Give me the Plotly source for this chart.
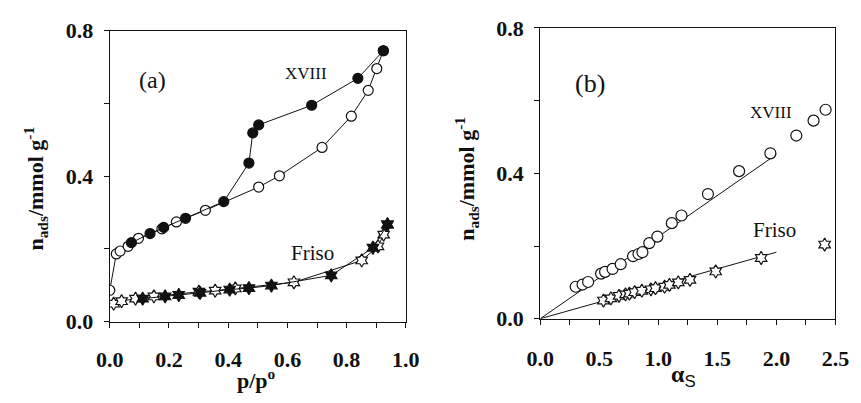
import plotly.graph_objects as go

# ---- Panel (a): isotherms, n_ads vs p/p0 ----
xviii_ads_p = [0.0, 0.022, 0.035, 0.062, 0.097, 0.176, 0.225, 0.323, 0.503, 0.573, 0.717, 0.816, 0.873, 0.902, 0.924]
xviii_ads_n = [0.086, 0.186, 0.194, 0.207, 0.229, 0.255, 0.274, 0.306, 0.370, 0.401, 0.479, 0.565, 0.636, 0.696, 0.745]
xviii_des_p = [0.924, 0.838, 0.682, 0.503, 0.483, 0.470, 0.385, 0.256, 0.182, 0.136, 0.073]
xviii_des_n = [0.745, 0.669, 0.595, 0.541, 0.519, 0.436, 0.330, 0.284, 0.259, 0.242, 0.217]

friso_ads_p = [0.013, 0.040, 0.087, 0.149, 0.301, 0.356, 0.424, 0.622, 0.851, 0.906, 0.925, 0.938]
friso_ads_n = [0.049, 0.056, 0.063, 0.069, 0.082, 0.085, 0.091, 0.108, 0.168, 0.207, 0.239, 0.267]
friso_des_p = [0.938, 0.889, 0.748, 0.546, 0.470, 0.405, 0.305, 0.233, 0.187, 0.111]
friso_des_n = [0.267, 0.203, 0.127, 0.099, 0.092, 0.088, 0.079, 0.073, 0.069, 0.063]

# ---- Panel (b): alpha-s plots ----
xviii_as = [0.30, 0.358, 0.405, 0.515, 0.549, 0.612, 0.681, 0.786, 0.832, 0.865, 0.923, 0.992,
            1.114, 1.196, 1.420, 1.684, 1.949, 2.169, 2.315, 2.417]
xviii_as_n = [0.088, 0.094, 0.101, 0.124, 0.129, 0.137, 0.150, 0.172, 0.178, 0.183, 0.208, 0.226,
              0.263, 0.284, 0.343, 0.406, 0.455, 0.504, 0.545, 0.575]
friso_as = [0.535, 0.598, 0.667, 0.722, 0.755, 0.799, 0.860, 0.937, 0.976, 1.053, 1.094, 1.169,
            1.268, 1.486, 1.871, 2.409]
friso_as_n = [0.050, 0.056, 0.063, 0.067, 0.069, 0.073, 0.077, 0.081, 0.084, 0.088, 0.093, 0.100,
              0.107, 0.130, 0.167, 0.204]
fit_x = [0.0, 2.0]
xviii_fit_n = [0.0, 0.452]
friso_fit_n = [0.0, 0.183]

W, H = 861, 403
INK = "#111111"
SERIF = "Times New Roman, Liberation Serif, serif"


def px(x):
    return x / W


def py(y):
    return 1 - y / H


fig = go.Figure()


def add(x, y, sym, filled, xa, ya, mode="lines+markers", size=9, lw=1.0):
    fig.add_trace(go.Scatter(
        x=x, y=y, mode=mode, xaxis=xa, yaxis=ya,
        line=dict(color=INK, width=lw),
        marker=dict(symbol=sym, size=size, color=INK if filled else "white",
                    line=dict(color=INK, width=1.2)),
        showlegend=False, hoverinfo="skip"))


# panel a
add(xviii_ads_p, xviii_ads_n, "circle", False, "x", "y", size=10)
add(xviii_des_p, xviii_des_n, "circle", True, "x", "y", size=10)
add(friso_ads_p, friso_ads_n, "hexagram", False, "x", "y", size=10)
add(friso_des_p, friso_des_n, "hexagram", True, "x", "y", size=10)
# panel b
add(fit_x, xviii_fit_n, "circle", True, "x2", "y2", mode="lines")
add(fit_x, friso_fit_n, "circle", True, "x2", "y2", mode="lines")
add(xviii_as, xviii_as_n, "circle", False, "x2", "y2", mode="markers", size=11)
add(friso_as, friso_as_n, "hexagram", False, "x2", "y2", mode="markers", size=10)

tickfont = dict(family=SERIF, size=22, color=INK, weight="bold")
common_axis = dict(showgrid=False, zeroline=False, showline=True, linecolor=INK, linewidth=1.2,
                   mirror=True, ticks="outside", ticklen=5, tickwidth=1.2, tickcolor=INK,
                   tickfont=tickfont)

fig.update_layout(
    width=W, height=H, margin=dict(l=0, r=0, t=0, b=0),
    paper_bgcolor="white", plot_bgcolor="white",
    xaxis=dict(domain=[px(99), px(405)], range=[0, 1.0], dtick=0.2, tickformat=".1f",
               anchor="y", ticklabelstandoff=13,
               minor=dict(dtick=0.1, ticks="outside", ticklen=5, tickwidth=1.2, tickcolor=INK),
               **common_axis),
    yaxis=dict(domain=[py(330), py(20)], range=[0, 0.8], dtick=0.4, tickformat=".1f",
               anchor="x", ticklabelstandoff=6,
               minor=dict(dtick=0.2, ticks="outside", ticklen=5, tickwidth=1.2, tickcolor=INK),
               **common_axis),
    xaxis2=dict(domain=[px(544), px(849)], range=[0, 2.5], dtick=0.5, tickformat=".1f",
                anchor="y2", ticklabelstandoff=15,
                minor=dict(dtick=0.25, ticks="outside", ticklen=5, tickwidth=1.2, tickcolor=INK),
                **common_axis),
    yaxis2=dict(domain=[py(327), py(17)], range=[0, 0.8], dtick=0.4, tickformat=".1f",
                anchor="x2", ticklabelstandoff=6,
                minor=dict(dtick=0.2, ticks="outside", ticklen=5, tickwidth=1.2, tickcolor=INK),
                **common_axis),
)


def note(text, x, y, size, weight="normal", angle=0, family=SERIF, yanchor="middle"):
    fig.add_annotation(text=text, x=px(x), y=py(y), xref="paper", yref="paper",
                       showarrow=False, textangle=angle, xanchor="center", yanchor=yanchor,
                       font=dict(family=family, size=size, color=INK, weight=weight))


note("(a)", 143, 72, 24)
note("XVIII", 302, 66, 17)
note("Friso", 309, 257, 21)
note("(b)", 595, 76, 26)
note("XVIII", 782, 107, 17)
note("Friso", 786, 232, 21)

note("n<sub>ads</sub>/mmol g<sup>-1</sup>", 22, 188, 22, weight="bold", angle=-90)
note("n<sub>ads</sub>/mmol g<sup>-1</sup>", 468, 178, 22, weight="bold", angle=-90)
note("p/p<sup>o</sup>", 251, 408, 22, weight="bold", yanchor="bottom")
note("α<sub><span style='font-family:Liberation Sans;font-weight:normal'>S</span></sub>", 692, 406, 24,
     weight="bold", yanchor="bottom")

fig.write_html("out.html")
